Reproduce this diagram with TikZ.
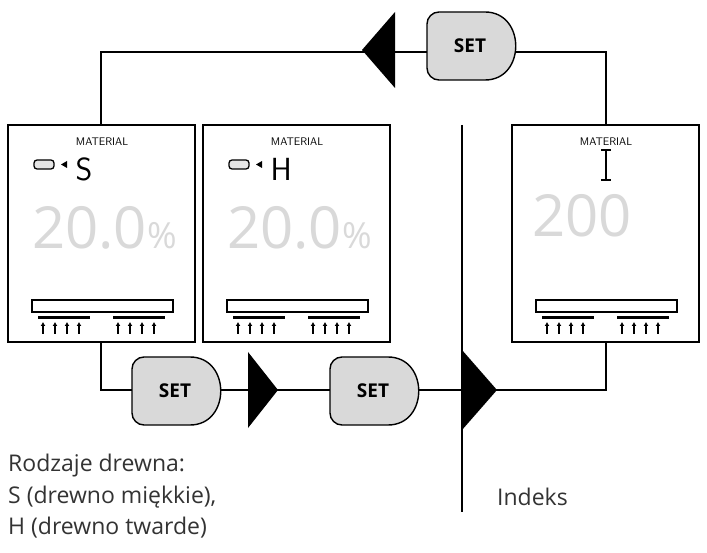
\documentclass[tikz,border=0pt]{standalone}
\usepackage{fontspec}
\setmainfont{Open Sans}
\usetikzlibrary{arrows.meta}
\begin{document}
\begin{tikzpicture}[x=1pt,y=-1pt,
  wire/.style={line width=1.6pt},
  panel/.style={draw,line width=1.4pt,fill=white},
  setbtn/.style={fill=black!15,draw,line width=1.4pt},
  lcd/.style={text=black!15,font=\fontsize{58}{58}\selectfont,anchor=west,inner sep=0pt},
  mat/.style={font=\fontsize{11}{11}\selectfont\sffamily},
  captext/.style={font=\fontsize{23}{26}\selectfont\color{black!80},anchor=west,inner sep=0pt}]
\useasboundingbox (0,0) rectangle (707,553);
% wires
\draw[wire] (101,125) -- (101,52) -- (606,52) -- (606,125);
\draw[wire] (101,342) -- (101,390) -- (606,390) -- (606,342);
\draw[wire] (462,125) -- (462,512);
% panels
\foreach \px/\nm in {8/p1,203/p2,512/p3}{
  \draw[panel] (\px,125) rectangle ++(187,217);
  \draw[line width=1.6pt,fill=white] (\px+24,300) rectangle ++(141,12);
  \fill (\px+30,316) rectangle ++(52,3.5);
  \fill (\px+105,316) rectangle ++(52,3.5);
  \foreach \ax in {35,47,59,71,110,122,134,146}
    \draw[line width=1.2pt,-{Latex[length=4pt,width=5pt]}] (\px+\ax,334) -- (\px+\ax,322);
  \node[mat] at (\px+94,142) {MATERIAL};
}
% panel 1 and 2 icons
\foreach \px/\ch in {8/S,203/H}{
  \draw[line width=1.3pt,fill=black!10,rounded corners=3pt] (\px+26,160) rectangle ++(20,9);
  \fill (\px+53,164.5) -- ++(6,-3.5) -- ++(0,7) -- cycle;
  \node[font=\fontsize{32}{32}\sffamily,anchor=west] at (\px+64,169) {\ch};
  \node[lcd] at (\px+24,228) {20.0\fontsize{36}{36}\selectfont\%};
}
\draw[line width=1.5pt] (601,150) -- (611,150) (606,150) -- (606,180) (601,180) -- (611,180);
\node[lcd] at (532,216) {200};
% triangles
\fill (362,50) -- (395,12) -- (395,88) -- cycle;
\fill (278,390) -- (248,352) -- (248,428) -- cycle;
\fill (497,390) -- (462,350) -- (462,430) -- cycle;
% set buttons
\foreach \bx/\by/\nm in {427/12/s0,132/357/s1,330/357/s2}{
  \draw[setbtn] (\bx+58,\by+68) [rounded corners=12pt] -- (\bx,\by+68) -- (\bx,\by) [sharp corners] -- (\bx+58,\by)
     .. controls (\bx+99,\by) and (\bx+99,\by+68) .. cycle;
  \node[font=\bfseries\fontsize{19}{19}\selectfont] (\nm) at (\bx+43,\by+34) {SET};
}
% captions
\node[captext] at (8,466) {Rodzaje drewna:};
\node[captext] at (8,497) {S (drewno miękkie),};
\node[captext] at (8,528) {H (drewno twarde)};
\node[captext] at (497,497) {Indeks};
\end{tikzpicture}
\end{document}
